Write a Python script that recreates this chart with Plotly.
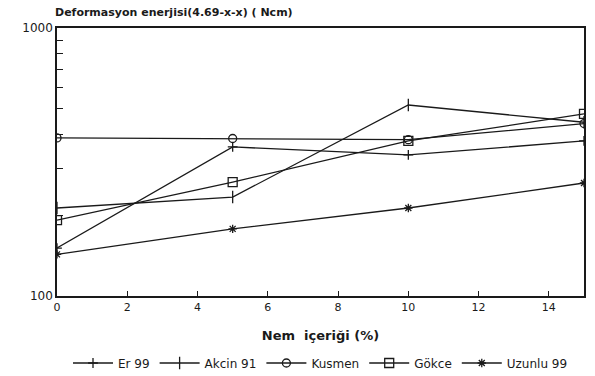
import plotly.graph_objects as go

moisture = [0, 5, 10, 15]
er99 = [151, 360, 336, 379]
akcin91 = [213, 234, 516, 445]
kusmen = [389, 387, 383, 440]
gokce = [192, 266, 379, 478]
uzunlu99 = [143, 178, 213, 264]

series_names = ["Er 99", "Akcin 91", "Kusmen", "Gökce", "Uzunlu 99"]
series_values = [er99, akcin91, kusmen, gokce, uzunlu99]
symbols = ["cross-thin-open", "line-ns-open", "circle-open", "square-open", "asterisk-open"]
sizes = [7, 9, 8, 9, 7]

x_ticks = [0, 2, 4, 6, 8, 10, 12, 14]
y_ticks = [100, 200, 300, 400, 500, 600, 700, 800, 900, 1000]
y_ticktext = ["100", "", "", "", "", "", "", "", "", "1000"]

FONT = "DejaVu Sans"
fig = go.Figure()
for name, vals, sym, sz in zip(series_names, series_values, symbols, sizes):
    fig.add_trace(go.Scatter(
        x=moisture, y=vals, name=name, mode="lines+markers",
        line=dict(color="#1a1a1a", width=1.3),
        marker=dict(symbol=sym, size=sz, color="#1a1a1a",
                    line=dict(color="#1a1a1a", width=1.3)),
    ))

fig.update_layout(
    width=595, height=376,
    margin=dict(l=57, r=11, t=28, b=80, autoexpand=False),
    paper_bgcolor="white", plot_bgcolor="white",
    font=dict(family=FONT, size=11, color="#1a1a1a"),
    title=dict(text="<b>Deformasyon enerjisi(4.69-x-x) ( Ncm)</b>",
               x=55/595, xanchor="left", y=1-12/376, yanchor="middle",
               font=dict(family=FONT, size=11, color="#1a1a1a")),
    showlegend=True,
    legend=dict(orientation="h", x=0.5, xanchor="center", y=-0.25, yanchor="middle",
                font=dict(family=FONT, size=12, color="#1a1a1a"),
                itemwidth=40, tracegroupgap=0, bgcolor="rgba(0,0,0,0)"),
)
fig.update_xaxes(
    range=[0, 15], tickvals=x_ticks, ticks="inside", ticklen=5, tickwidth=1.2,
    tickcolor="#1a1a1a", showline=True, linecolor="#1a1a1a", linewidth=1.5, mirror=True,
    showgrid=False, zeroline=False, tickfont=dict(family=FONT, size=11), automargin=False,
    title=dict(text="<b>Nem  içeriği (%)</b>", font=dict(family=FONT, size=13), standoff=18),
)
fig.update_yaxes(
    type="log", range=[2, 3], tickvals=y_ticks, ticktext=y_ticktext,
    ticks="inside", ticklen=6, tickwidth=1.2, tickcolor="#1a1a1a",
    showline=True, linecolor="#1a1a1a", linewidth=1.5, mirror=True, automargin=False,
    showgrid=False, zeroline=False, tickfont=dict(family=FONT, size=12),
)
fig.write_html("out.html", config={"displayModeBar": False},
               post_script="document.body.style.margin='0';")
